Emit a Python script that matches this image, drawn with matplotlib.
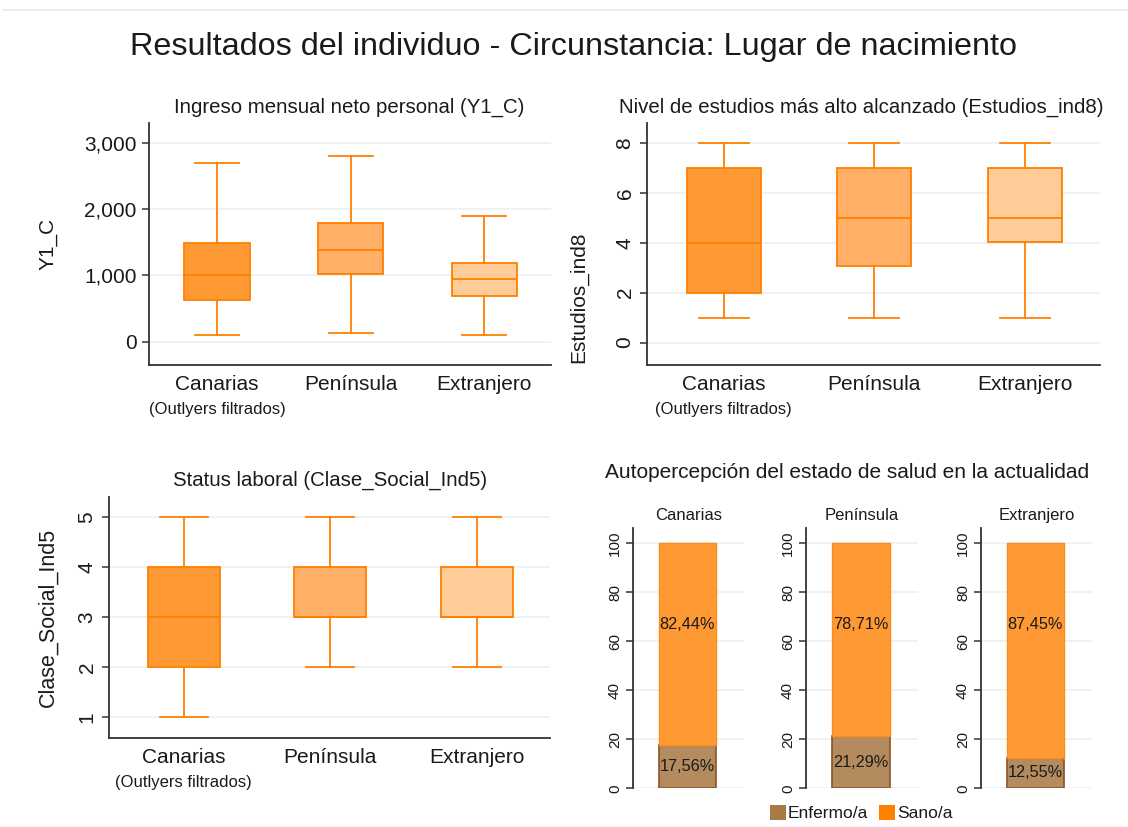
import matplotlib.pyplot as plt
from matplotlib.lines import Line2D
from matplotlib.patches import Patch

plt.rcParams['font.family'] = ['Liberation Sans', 'DejaVu Sans']

W, H = 1128, 827

# ---- datos ----
grupos = ["Canarias", "Península", "Extranjero"]
nota_canarias = "(Outlyers filtrados)"

# Ingreso mensual neto personal (Y1_C): whislo, q1, mediana, q3, whishi
ingreso_lo = [100, 140, 100]
ingreso_q1 = [635, 1020, 685]
ingreso_med = [1000, 1385, 948]
ingreso_q3 = [1490, 1795, 1185]
ingreso_hi = [2700, 2800, 1900]

# Nivel de estudios (Estudios_ind8)
estudios_lo = [1, 1, 1]
estudios_q1 = [2, 3.05, 4.02]
estudios_med = [4, 5, 5]
estudios_q3 = [7, 7, 7]
estudios_hi = [8, 8, 8]

# Status laboral (Clase_Social_Ind5)
clase_lo = [1, 2, 2]
clase_q1 = [2, 3, 3]
clase_med = [3, 3, 3]
clase_q3 = [4, 4, 4]
clase_hi = [5, 5, 5]

# Autopercepción del estado de salud (%)
enfermo = [17.56, 21.29, 12.55]
sano = [82.44, 78.71, 87.45]

colores_caja = ["#FF9933", "#FFB066", "#FFCB99"]
naranja = "#FF8000"
grid_col = "#EAF1F2"
texto = "#1a1a1a"
eje = "#333333"


def px(x0, y0, x1, y1):
    """rectángulo en píxeles -> coordenadas de figura"""
    return [x0 / W, 1 - y1 / H, (x1 - x0) / W, (y1 - y0) / H]


def estilo_ejes(ax):
    for s in ["top", "right"]:
        ax.spines[s].set_visible(False)
    for s in ["left", "bottom"]:
        ax.spines[s].set_color(eje)
        ax.spines[s].set_linewidth(1.3)
    ax.yaxis.grid(True, color=grid_col, linewidth=1.2)
    ax.set_axisbelow(True)
    ax.tick_params(axis="x", length=0, pad=7, labelsize=15, colors=texto)
    ax.tick_params(axis="y", length=5, width=1.1, color=eje, pad=4,
                   labelsize=15, colors=texto)


def cajas(ax, lo, q1, med, q3, hi):
    stats = []
    for i in range(len(grupos)):
        stats.append(dict(whislo=lo[i], q1=q1[i], med=med[i], q3=q3[i],
                          whishi=hi[i], label=grupos[i]))
    bp = ax.bxp(stats, positions=[1, 2, 3], widths=0.49, capwidths=0.33,
                showfliers=False, patch_artist=True,
                boxprops=dict(edgecolor=naranja, linewidth=1.3),
                medianprops=dict(color=naranja, linewidth=1.3),
                whiskerprops=dict(color=naranja, linewidth=1.3),
                capprops=dict(color=naranja, linewidth=1.3))
    for caja, c in zip(bp["boxes"], colores_caja):
        caja.set_facecolor(c)
    ax.set_xlim(0.49, 3.5)
    ax.annotate(nota_canarias, xy=(1, 0), xycoords=ax.get_xaxis_transform(),
                xytext=(0, -32), textcoords="offset points",
                ha="center", va="center", fontsize=12, color=texto)


def vertical(ax):
    for t in ax.get_yticklabels():
        t.set_rotation(90)
        t.set_va("center")


fig = plt.figure(figsize=(W / 100, H / 100), dpi=100)

fig.add_artist(Line2D([3 / W, 1], [1 - 10 / H, 1 - 10 / H],
                      color="#E4ECEC", linewidth=1.2))
fig.text(574 / W, 1 - 47 / H,
         "Resultados del individuo - Circunstancia: Lugar de nacimiento",
         ha="center", va="center", fontsize=23.3, color=texto)

# ---- panel 1 ----
ax1 = fig.add_axes(px(149, 123, 551, 365))
estilo_ejes(ax1)
cajas(ax1, ingreso_lo, ingreso_q1, ingreso_med, ingreso_q3, ingreso_hi)
ax1.set_ylim(-350, 3300)
ax1.set_yticks([0, 1000, 2000, 3000])
ax1.set_yticklabels(["0", "1,000", "2,000", "3,000"])
ax1.set_ylabel("Y1_C", fontsize=15, color=texto)
ax1.yaxis.set_label_coords(-0.227, 0.5)
fig.text(349 / W, 1 - 107 / H, "Ingreso mensual neto personal (Y1_C)",
         ha="center", va="center", fontsize=14.7, color=texto)

# ---- panel 2 ----
ax2 = fig.add_axes(px(647, 123, 1100, 365))
estilo_ejes(ax2)
cajas(ax2, estudios_lo, estudios_q1, estudios_med, estudios_q3, estudios_hi)
ax2.set_ylim(-0.9, 8.8)
ax2.set_yticks([0, 2, 4, 6, 8])
vertical(ax2)
ax2.set_ylabel("Estudios_ind8", fontsize=15, color=texto)
ax2.yaxis.set_label_coords(-0.13, 0.28)
fig.text(861 / W, 1 - 107 / H,
         "Nivel de estudios más alto alcanzado (Estudios_ind8)",
         ha="center", va="center", fontsize=14.7, color=texto)

# ---- panel 3 ----
ax3 = fig.add_axes(px(109, 497, 550, 738))
estilo_ejes(ax3)
cajas(ax3, clase_lo, clase_q1, clase_med, clase_q3, clase_hi)
ax3.set_ylim(0.58, 5.4)
ax3.set_yticks([1, 2, 3, 4, 5])
vertical(ax3)
ax3.set_ylabel("Clase_Social_Ind5", fontsize=15.5, color=texto)
ax3.yaxis.set_label_coords(-0.115, 0.5)
fig.text(330 / W, 1 - 480 / H, "Status laboral (Clase_Social_Ind5)",
         ha="center", va="center", fontsize=14.7, color=texto)

# ---- panel 4: barras apiladas ----
fig.text(605 / W, 1 - 472 / H,
         "Autopercepción del estado de salud en la actualidad",
         ha="left", va="center", fontsize=15, color=texto)

col_enf, borde_enf = "#B38B5F", "#8B5424"
col_sano, borde_sano = "#FF9933", "#FF8A1A"
xs = [(633, 744), (806, 918), (981, 1092)]
for i, (x0, x1) in enumerate(xs):
    ax = fig.add_axes(px(x0, 528, x1, 788.3))
    for s in ["top", "right", "bottom"]:
        ax.spines[s].set_visible(False)
    ax.spines["left"].set_color(eje)
    ax.spines["left"].set_linewidth(1.3)
    ax.yaxis.grid(True, color=grid_col, linewidth=1.2)
    ax.set_axisbelow(True)
    ax.bar(0, enfermo[i], width=1.03, color=col_enf, edgecolor=borde_enf,
           linewidth=1.2)
    ax.bar(0, sano[i], bottom=enfermo[i], width=1.03, color=col_sano,
           edgecolor=borde_sano, linewidth=1)
    ax.text(0, enfermo[i] / 2, f"{enfermo[i]:.2f}%".replace(".", ","),
            ha="center", va="center", fontsize=11.7, color=texto)
    ax.text(0, 67, f"{sano[i]:.2f}%".replace(".", ","),
            ha="center", va="center", fontsize=11.7, color=texto)
    ax.set_xlim(-0.98, 1.02)
    ax.set_ylim(0, 106.2)
    ax.set_xticks([])
    ax.set_yticks([0, 20, 40, 60, 80, 100])
    ax.tick_params(axis="y", length=5, width=1.1, color=eje, pad=3,
                   labelsize=11, colors=texto)
    vertical(ax)
    ax.set_title(grupos[i], fontsize=12, color=texto, pad=6)

handles = [Patch(facecolor="#A97A45", edgecolor="none", label="Enfermo/a"),
           Patch(facecolor=naranja, edgecolor="none", label="Sano/a")]
fig.legend(handles=handles, loc="center", ncol=2,
           bbox_to_anchor=(861 / W, 1 - 813 / H), frameon=False,
           fontsize=12.5, handlelength=0.95, handleheight=0.95,
           handletextpad=0.1, columnspacing=0.6, labelcolor=texto,
           borderpad=0.1)

fig.savefig("out.png", dpi=100, facecolor="white")
